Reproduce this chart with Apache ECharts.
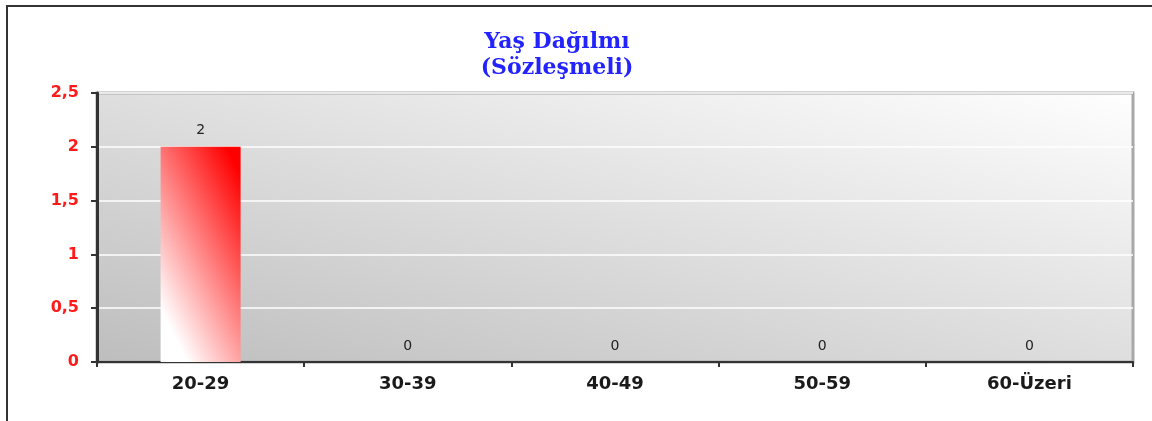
<!DOCTYPE html>
<html>
<head>
<meta charset="utf-8">
<script src="https://cdn.jsdelivr.net/npm/echarts@6/dist/echarts.min.js"></script>
<style>
html,body{margin:0;padding:0;background:#fff;}
#c{width:1152px;height:421px;}
</style>
</head>
<body>
<div id="c"></div>
<script>
const categories = ['20-29', '30-39', '40-49', '50-59', '60-Üzeri'];
const values = [2, 0, 0, 0, 0];
const yTicks = [0, 0.5, 1, 1.5, 2, 2.5];
const titleLines = ['Yaş Dağılmı', '(Sözleşmeli)'];

const chart = echarts.init(document.getElementById('c'));
chart.setOption({
  animation: false,
  backgroundColor: '#ffffff',
  title: {
    text: titleLines.join('\n'),
    left: 552,
    top: 24,
    textAlign: 'center',
    textStyle: {
      fontFamily: 'DejaVu Serif',
      fontWeight: 'bold',
      fontSize: 22,
      lineHeight: 26,
      color: '#2323ff'
    }
  },
  graphic: [{
    type: 'rect',
    shape: { x: 7, y: 6, width: 1200, height: 500 },
    style: { fill: 'none', stroke: '#333333', lineWidth: 2 },
    silent: true,
    z: -1
  }],
  grid: {
    left: 97, top: 93, right: 19, bottom: 59,
    show: true,
    borderColor: '#a8a8a8',
    borderWidth: 3,
    backgroundColor: new echarts.graphic.LinearGradient(0.437, 1.437, 0.563, -0.437, [
      { offset: 0, color: '#bdbdbd' },
      { offset: 1, color: '#ffffff' }
    ])
  },
  xAxis: {
    type: 'category',
    data: categories,
    boundaryGap: true,
    axisLine: { lineStyle: { color: '#333333', width: 2 } },
    axisTick: { show: true, length: 5, lineStyle: { color: '#333333', width: 2 } },
    axisLabel: {
      margin: 13,
      fontFamily: 'DejaVu Sans',
      fontWeight: 'bold',
      fontSize: 18,
      color: '#1a1a1a'
    },
    splitLine: { show: false }
  },
  yAxis: {
    type: 'value',
    min: 0, max: 2.5, interval: 0.5,
    axisLine: { show: true, lineStyle: { color: '#333333', width: 3 } },
    axisTick: { show: true, length: 6, lineStyle: { color: '#333333', width: 2 } },
    axisLabel: {
      margin: 18,
      fontFamily: 'DejaVu Sans',
      fontWeight: 'bold',
      fontSize: 16,
      color: '#ff1a1a',
      formatter: v => String(v).replace('.', ',')
    },
    splitLine: { show: true, lineStyle: { color: '#ffffff', width: 1.5 } }
  },
  series: [{
    type: 'bar',
    data: values,
    barWidth: 80,
    itemStyle: {
      color: new echarts.graphic.LinearGradient(-0.3, 0.65, 1.3, 0.35, [
        { offset: 0, color: '#ffffff' },
        { offset: 0.08, color: '#ffffff' },
        { offset: 1, color: '#ff0000' }
      ])
    },
    label: {
      show: true,
      position: 'top',
      distance: 9,
      fontFamily: 'DejaVu Sans',
      fontSize: 14,
      color: '#222222'
    }
  }]
});
</script>
</body>
</html>
